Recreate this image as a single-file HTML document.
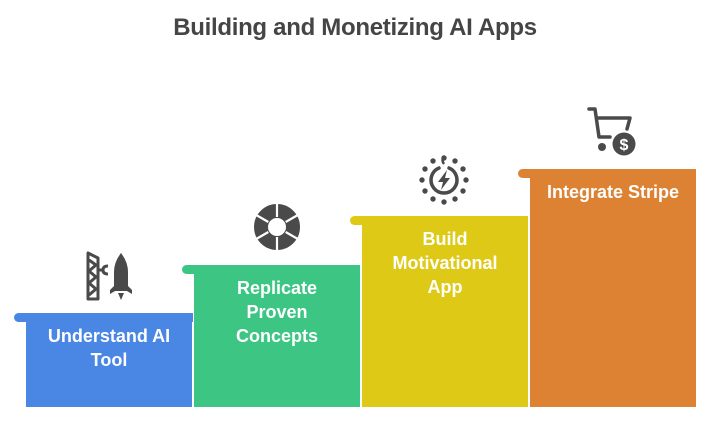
<!DOCTYPE html>
<html><head><meta charset="utf-8"><style>
html,body{margin:0;padding:0;background:#fff;}
body{width:710px;height:422px;position:relative;overflow:hidden;font-family:"Liberation Sans",Arial,sans-serif;}
.t{position:absolute;left:0;width:710px;top:14px;text-align:center;font-weight:bold;font-size:24px;color:#454545;letter-spacing:-0.3px}
.bar{position:absolute;height:9px;border-radius:5px 0 0 5px;}
.body{position:absolute;bottom:15px;color:#fff;font-weight:bold;font-size:18px;text-align:center;line-height:24px;box-sizing:border-box;padding-top:11px}
svg{position:absolute}
</style></head><body>
<div class="t">Building and Monetizing AI Apps</div>

<div class="bar" style="left:14px;top:313px;width:179px;background:#4a86e3"></div>
<div class="body" style="left:26px;top:313px;width:166px;background:#4a86e3">Understand AI<br>Tool</div>

<div class="bar" style="left:182px;top:265px;width:178px;background:#3dc584"></div>
<div class="body" style="left:194px;top:265px;width:166px;background:#3dc584">Replicate<br>Proven<br>Concepts</div>

<div class="bar" style="left:350px;top:216px;width:178px;background:#dfc917"></div>
<div class="body" style="left:362px;top:216px;width:166px;background:#dfc917">Build<br>Motivational<br>App</div>

<div class="bar" style="left:518px;top:169px;width:178px;background:#dd8232"></div>
<div class="body" style="left:530px;top:169px;width:166px;background:#dd8232">Integrate Stripe</div>

<!-- rocket icon -->
<svg style="left:84px;top:250px" width="50" height="52" viewBox="0 0 50 52">
<g fill="none" stroke="#4a4a4a" stroke-width="3" stroke-linejoin="round">
<path d="M4 3 L4 49 L14 49 L14 8 Z"/>
<path d="M5 10 L12 15 L5 21 L12 27 L5 33 L12 39 L5 45"/>
<path d="M14 20 L20 20 M24 16 q-5 0 -5 4 q0 4 5 4"/>
</g>
<g fill="#4a4a4a">
<path d="M37 3 Q30 12 30 22 L30 36 L26 40 L26 44 L31 41 L43 41 L48 44 L48 40 L44 36 L44 22 Q44 12 37 3Z"/>
<path d="M34 43 L40 43 L37 50Z"/>
</g>
</svg>

<!-- segmented ring -->
<svg style="left:253px;top:203px" width="48" height="48" viewBox="-24 -24 48 48">
<circle r="16" fill="none" stroke="#4a4a4a" stroke-width="14"/>
<g stroke="#fff" stroke-width="2.2">
<line x1="0" y1="-10" x2="0" y2="-24" transform="rotate(0)"/>
<line x1="0" y1="-10" x2="0" y2="-24" transform="rotate(60)"/>
<line x1="0" y1="-10" x2="0" y2="-24" transform="rotate(120)"/>
<line x1="0" y1="-10" x2="0" y2="-24" transform="rotate(180)"/>
<line x1="0" y1="-10" x2="0" y2="-24" transform="rotate(240)"/>
<line x1="0" y1="-10" x2="0" y2="-24" transform="rotate(300)"/>
</g>
</svg>

<!-- power gear -->
<svg style="left:418px;top:154px" width="52" height="52" viewBox="-26 -26 52 52">
<g fill="#4a4a4a">
<circle cx="0" cy="-22" r="2.7"/><circle cx="11" cy="-19" r="2.7"/><circle cx="19" cy="-11" r="2.7"/>
<circle cx="22" cy="0" r="2.7"/><circle cx="19" cy="11" r="2.7"/><circle cx="11" cy="19" r="2.7"/>
<circle cx="0" cy="22" r="2.7"/><circle cx="-11" cy="19" r="2.7"/><circle cx="-19" cy="11" r="2.7"/>
<circle cx="-22" cy="0" r="2.7"/><circle cx="-19" cy="-11" r="2.7"/><circle cx="-11" cy="-19" r="2.7"/>
<path d="M3 -10 L-6 2 L-1 2 L-3 10 L6 -2 L1 -2Z"/>
</g>
<path d="M-5 -12 A13 13 0 1 0 5 -12" fill="none" stroke="#4a4a4a" stroke-width="3.5" stroke-linecap="round"/>
<path d="M0 -16 Q-3 -20 0 -24" fill="none" stroke="#4a4a4a" stroke-width="2.5"/>
</svg>

<!-- cart -->
<svg style="left:586px;top:104px" width="52" height="54" viewBox="0 0 52 54">
<g fill="none" stroke="#4a4a4a" stroke-width="3.5" stroke-linecap="round" stroke-linejoin="round">
<path d="M3 5 L9 5 L13 33 L24 33"/>
<path d="M11 14 L44 14 L41 25"/>
</g>
<circle cx="16" cy="43" r="4" fill="#4a4a4a"/>
<circle cx="38" cy="40" r="11.5" fill="#4a4a4a"/>
<text x="38" y="46" text-anchor="middle" font-family="Liberation Sans,sans-serif" font-weight="bold" font-size="16" fill="#fff">$</text>
</svg>
</body></html>
